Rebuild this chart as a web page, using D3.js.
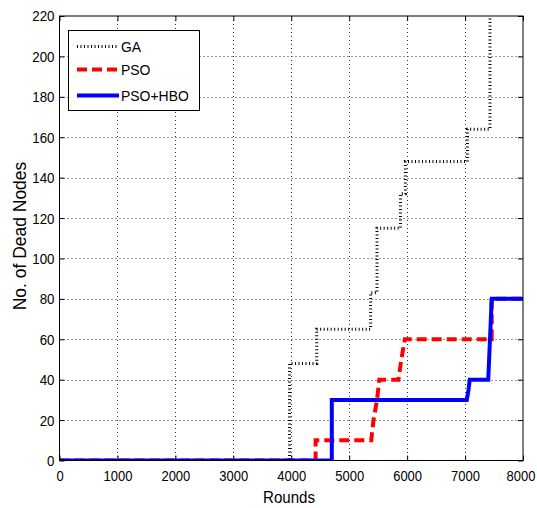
<!DOCTYPE html>
<html>
<head>
<meta charset="utf-8">
<script src="https://cdn.jsdelivr.net/npm/d3@7"></script>
<style>
  html, body { margin: 0; padding: 0; background: #fff; }
  svg { display: block; }
  text { font-family: "Liberation Sans", Arial, sans-serif; fill: #000; }
</style>
</head>
<body>
<svg id="chart" width="537" height="508"></svg>
<script>
// Cumulative dead nodes per round for each scheme (vertex lists of the step traces)
const gaRounds   = [0, 3970, 3970, 4440, 4440, 5370, 5370, 5480, 5480, 5885, 5885, 5970, 5970, 7040, 7040, 7430, 7430];
const gaDead     = [0, 0,    48,   48,   65,   65,   83,   83,   115,  115,  132,  132,  148,  148,  164,  164,  220];

const psoRounds  = [0, 4420, 4420, 5380, 5420, 5480, 5520, 5850, 5900, 5960, 7460, 7460, 8000];
const psoDead    = [0, 0,    10,   10,   20,   30,   40,   40,   50,   60,   60,   80,   80];

const hboRounds  = [0, 4700, 4700, 7030, 7060, 7080, 7400, 7430, 7460, 8000];
const hboDead    = [0, 0,    30,   30,   35,   40,   40,   60,   80,   80];

const seriesNames = ["GA", "PSO", "PSO+HBO"];
const xTicks = [0, 1000, 2000, 3000, 4000, 5000, 6000, 7000, 8000];
const yTicks = [0, 20, 40, 60, 80, 100, 120, 140, 160, 180, 200, 220];

const svg = d3.select("#chart");
const m = { left: 59.5, top: 16, right: 523, bottom: 460.5 };

const x = d3.scaleLinear().domain([0, 8000]).range([m.left, m.right]);
const y = d3.scaleLinear().domain([0, 220]).range([m.bottom, m.top]);

// squeeze a text horizontally to mimic a narrow face
function condense(sel, k) {
  sel.each(function () {
    const w = this.getComputedTextLength();
    d3.select(this).attr("textLength", w * k).attr("lengthAdjust", "spacingAndGlyphs");
  });
}

const defs = svg.append("defs");
defs.append("clipPath").attr("id", "plotClip")
  .append("rect").attr("x", m.left).attr("y", m.top)
  .attr("width", m.right - m.left).attr("height", m.bottom - m.top);

// dotted grid
const grid = svg.append("g").attr("stroke", "#000").attr("stroke-width", 1)
  .attr("stroke-dasharray", "1,3").attr("opacity", 0.8);
xTicks.slice(1, -1).forEach(t => {
  grid.append("line").attr("x1", Math.round(x(t)) + 0.5).attr("x2", Math.round(x(t)) + 0.5)
    .attr("y1", m.top).attr("y2", m.bottom);
});
yTicks.slice(1, -1).forEach(t => {
  grid.append("line").attr("y1", Math.round(y(t)) + 0.5).attr("y2", Math.round(y(t)) + 0.5)
    .attr("x1", m.left).attr("x2", m.right);
});

// axes with inward ticks
const fmt = d3.format("d");
const xAxis = d3.axisBottom(x).tickValues(xTicks).tickFormat(fmt).tickSizeInner(-5).tickSizeOuter(0).tickPadding(10);
const yAxis = d3.axisLeft(y).tickValues(yTicks).tickFormat(fmt).tickSizeInner(-5).tickSizeOuter(0).tickPadding(5);
const gx = svg.append("g").attr("transform", `translate(0,${m.bottom})`).call(xAxis);
const gy = svg.append("g").attr("transform", `translate(${m.left},0)`).call(yAxis);
const gxTop = svg.append("g").attr("transform", `translate(0,${m.top})`)
  .call(d3.axisTop(x).tickValues(xTicks).tickSizeInner(-5).tickSizeOuter(0).tickFormat(""));
const gyRight = svg.append("g").attr("transform", `translate(${m.right},0)`)
  .call(d3.axisRight(y).tickValues(yTicks).tickSizeInner(-5).tickSizeOuter(0).tickFormat(""));
[gx, gy, gxTop, gyRight].forEach(g => {
  g.select(".domain").remove();
  g.selectAll("line").attr("stroke", "#000");
  g.selectAll("text").attr("font-size", 15.5).attr("font-family", null).attr("fill", "#111");
});
// narrow x labels by scaling about their tick position; last one hugs the page edge
gx.selectAll(".tick text")
  .attr("transform", d => d === 8000 ? "translate(12,0) scale(0.84,1)" : "scale(0.84,1)")
  .attr("text-anchor", d => d === 8000 ? "end" : "middle");
condense(gy.selectAll("text"), 0.86);

// series
const line = d3.line().x(d => x(d[0])).y(d => y(d[1]));
const plot = svg.append("g").attr("clip-path", "url(#plotClip)");
const zip = (a, b) => a.map((v, i) => [v, b[i]]);

const styles = [
  { data: zip(gaRounds, gaDead), color: "#000", width: 3, dash: "1,2.5" },
  { data: zip(psoRounds, psoDead), color: "#ff0000", width: 4, dash: "10,5" },
  { data: zip(hboRounds, hboDead), color: "#0000ff", width: 4, dash: null }
];
// PSO first so the solid PSO+HBO trace sits over it, GA on top
[1, 2, 0].forEach(i => {
  const s = styles[i];
  plot.append("path").datum(s.data).attr("d", line)
    .attr("fill", "none").attr("stroke", s.color).attr("stroke-width", s.width)
    .attr("stroke-dasharray", s.dash).attr("stroke-linejoin", "miter");
});

// frame
svg.append("rect").attr("x", m.left).attr("y", m.top)
  .attr("width", m.right - m.left).attr("height", m.bottom - m.top)
  .attr("fill", "none").attr("stroke", "#000").attr("stroke-width", 1);

// legend
const lg = svg.append("g");
lg.append("rect").attr("x", 68.5).attr("y", 30.5).attr("width", 131).attr("height", 80)
  .attr("fill", "#fff").attr("stroke", "#000").attr("stroke-width", 1);
seriesNames.forEach((name, i) => {
  const s = styles[i];
  const yy = [46.5, 69.5, 95.5][i];
  lg.append("line").attr("x1", 77).attr("x2", 119).attr("y1", yy).attr("y2", yy)
    .attr("stroke", s.color).attr("stroke-width", s.width).attr("stroke-dasharray", s.dash);
  const t = lg.append("text").attr("x", 121).attr("y", yy).attr("dy", "0.36em")
    .attr("font-size", 15).text(name);
  condense(t, 0.93);
});

// axis titles
const xt = svg.append("text").attr("x", 289).attr("y", 503).attr("text-anchor", "middle")
  .attr("font-size", 16).text("Rounds");
condense(xt, 0.94);
const yt = svg.append("text").attr("transform", `translate(26,236) rotate(-90)`).attr("text-anchor", "middle")
  .attr("font-size", 18).attr("fill", "#444").text("No. of Dead Nodes");
condense(yt, 0.97);
</script>
</body>
</html>
